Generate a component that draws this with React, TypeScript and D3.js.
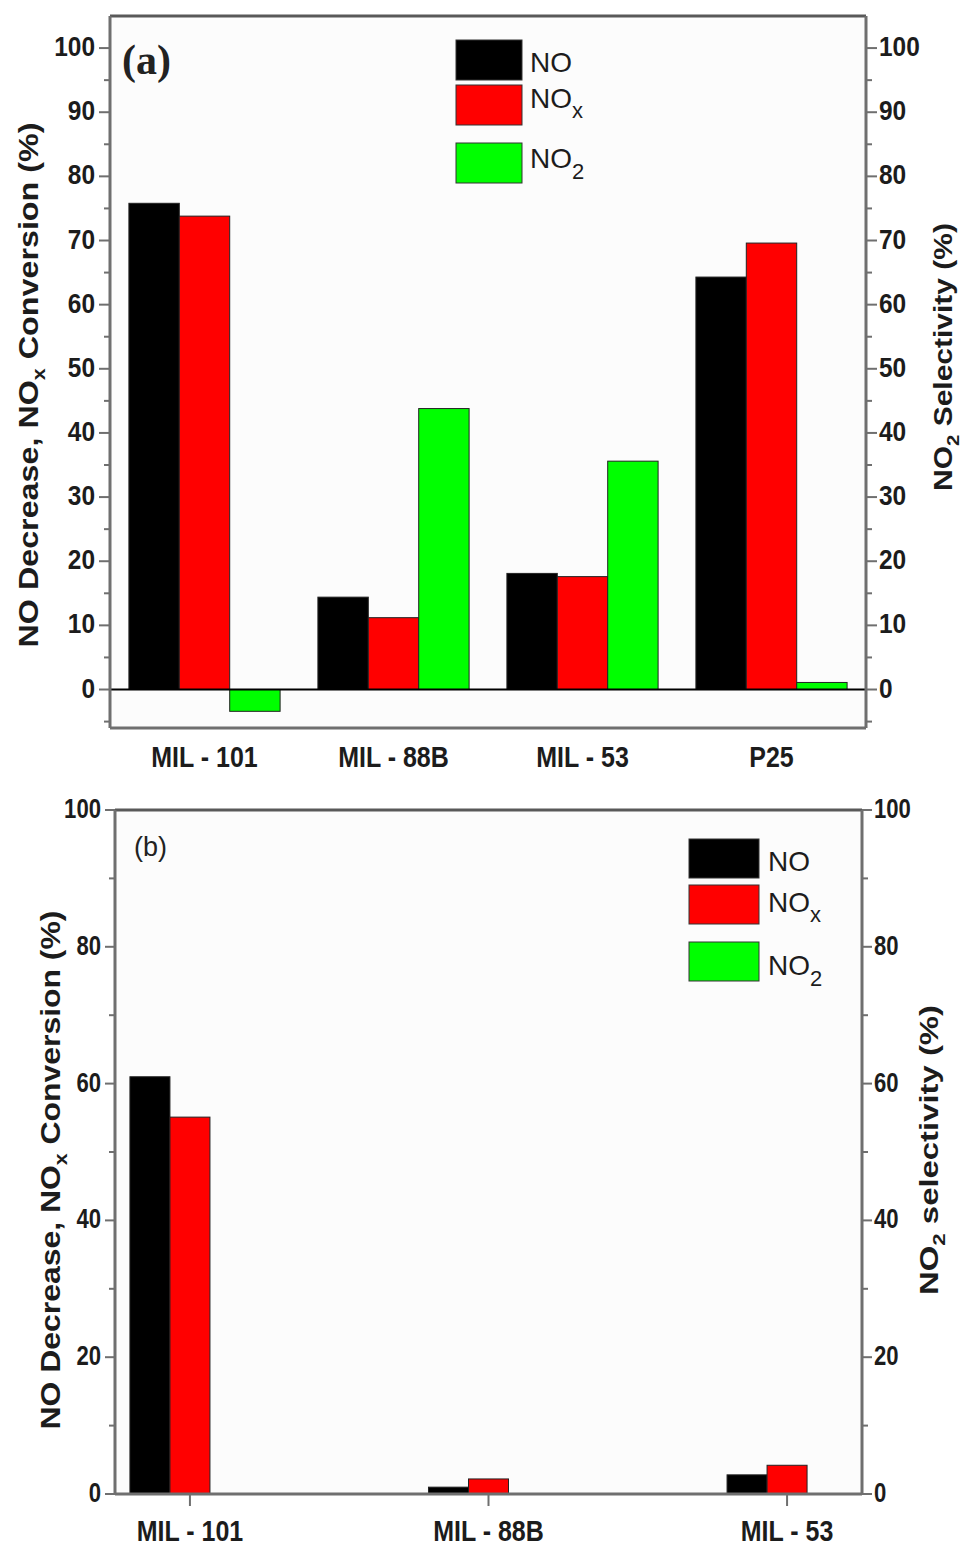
import React from 'react';
import * as d3 from 'd3';

// series shared by both panels
const seriesNames = ['NO', 'NOx', 'NO2'];
const seriesColors = ['#000000', '#ff0000', '#00ff00'];

// panel (a)
const categoriesA = ['MIL - 101', 'MIL - 88B', 'MIL - 53', 'P25'];
const noA = [75.8, 14.4, 18.1, 64.3];
const noxA = [73.8, 11.2, 17.6, 69.6];
const no2A = [-3.4, 43.8, 35.6, 1.1];
const tickLabelsA = [0, 10, 20, 30, 40, 50, 60, 70, 80, 90, 100];
const minorTicksA = [-5, 5, 15, 25, 35, 45, 55, 65, 75, 85, 95];

// panel (b)
const categoriesB = ['MIL - 101', 'MIL - 88B', 'MIL - 53'];
const noB = [61.0, 1.0, 2.8];
const noxB = [55.1, 2.2, 4.2];
const no2B = [0, 0, 0];
const tickLabelsB = [0, 20, 40, 60, 80, 100];
const minorTicksB = [10, 30, 50, 70, 90];

const FONT = 'Arial, "Liberation Sans", Helvetica, sans-serif';
const AXIS = '#6f6f6f';
const INK = '#1c1c1c';

function HText({ x, y, size, anchor = 'middle', weight = 'bold', sy = 1, len, children }: any) {
  return (
    <text
      transform={`translate(${x},${y}) scale(1,${sy})`}
      fontSize={size}
      fontWeight={weight}
      textAnchor={anchor}
      fontFamily={FONT}
      fill={INK}
      textLength={len}
      lengthAdjust={len ? 'spacingAndGlyphs' : undefined}
    >
      {children}
    </text>
  );
}

function VText({ x, y, size, len, children }: any) {
  return (
    <text
      transform={`translate(${x},${y}) rotate(-90)`}
      fontSize={size}
      fontWeight="bold"
      textAnchor="middle"
      fontFamily={FONT}
      fill={INK}
      textLength={len}
      lengthAdjust="spacingAndGlyphs"
    >
      {children}
    </text>
  );
}

function Panel(p: any) {
  const { l, r, t, b } = p.frame;
  const y = d3.scaleLinear().domain(p.yDomain).range([b, t]);
  const x = d3
    .scaleBand()
    .domain(p.categories)
    .range([l, r])
    .paddingInner(p.padIn)
    .paddingOuter(p.padOut);
  const sub = d3.scaleBand().domain(seriesNames).range([0, x.bandwidth()]);
  const values = p.values;

  return (
    <g>
      <rect x={l} y={t} width={r - l} height={b - t} fill="#fcfcfc" />
      {/* bars */}
      {p.categories.map((c: string, i: number) =>
        seriesNames.map((s, k) => {
          const v = values[k][i];
          if (v === 0) return null;
          const y0 = y(0);
          const y1 = y(v);
          return (
            <rect
              key={c + s}
              x={(x(c) as number) + (sub(s) as number)}
              y={Math.min(y0, y1)}
              width={sub.bandwidth()}
              height={Math.abs(y1 - y0)}
              fill={seriesColors[k]}
              stroke="#222"
              strokeWidth={1}
            />
          );
        })
      )}
      {p.zeroLine && <line x1={l} x2={r} y1={y(0)} y2={y(0)} stroke="#000" strokeWidth={2} />}
      {/* frame */}
      <line x1={l} x2={r} y1={t} y2={t} stroke="#595959" strokeWidth={3} />
      <line x1={l} x2={r} y1={b} y2={b} stroke={AXIS} strokeWidth={3} />
      <line x1={l} x2={l} y1={t} y2={b} stroke={AXIS} strokeWidth={3} />
      <line x1={r} x2={r} y1={t} y2={b} stroke={AXIS} strokeWidth={3} />
      {/* y ticks */}
      {p.ticks.map((v: number) => (
        <g key={'t' + v}>
          <line x1={l - p.tickLen} x2={l} y1={y(v)} y2={y(v)} stroke={AXIS} strokeWidth={2} />
          <line x1={r} x2={r + p.tickLen} y1={y(v)} y2={y(v)} stroke={AXIS} strokeWidth={2} />
          <HText x={l - p.tickLen - 4} y={y(v) + 8} size={p.tickSize} anchor="end" sy={1.12} len={p.digitW * String(v).length}>
            {v}
          </HText>
          <HText x={r + p.tickLen + 2} y={y(v) + 8} size={p.tickSize} anchor="start" sy={1.12} len={p.digitW * String(v).length}>
            {v}
          </HText>
        </g>
      ))}
      {p.minor.map((v: number) => (
        <g key={'m' + v}>
          <line x1={l - 6} x2={l} y1={y(v)} y2={y(v)} stroke={AXIS} strokeWidth={2} />
          <line x1={r} x2={r + 6} y1={y(v)} y2={y(v)} stroke={AXIS} strokeWidth={2} />
        </g>
      ))}
      {/* category axis */}
      {p.categories.map((c: string) => {
        const cx = (x(c) as number) + x.bandwidth() / 2;
        return (
          <g key={'c' + c}>
            {p.xTicks && <line x1={cx} x2={cx} y1={b} y2={b + 12} stroke={AXIS} strokeWidth={2} />}
            <HText x={cx} y={p.catY} size={p.catSize} sy={1.15}>
              {c}
            </HText>
          </g>
        );
      })}
      {/* legend */}
      {seriesNames.map((s, k) => (
        <g key={'lg' + s}>
          <rect
            x={p.legend.x}
            y={p.legend.ys[k]}
            width={p.legend.w}
            height={p.legend.h}
            fill={seriesColors[k]}
            stroke="#333"
            strokeWidth={1}
          />
          <text x={p.legend.tx} y={p.legend.bases[k]} fontSize={28} fontFamily={FONT} fill={INK}>
            NO
            {k > 0 && (
              <tspan fontSize={22} dy={k === 1 ? 10 : 11}>
                {k === 1 ? 'x' : '2'}
              </tspan>
            )}
          </text>
        </g>
      ))}
      {p.children}
    </g>
  );
}

export default function App() {
  return (
    <svg width={962} height={1546} style={{ position: 'absolute', left: 0, top: 0, background: '#fff' }}>
      <Panel
        frame={{ l: 110, r: 866, t: 16, b: 728 }}
        yDomain={[-6, 105]}
        categories={categoriesA}
        values={[noA, noxA, no2A]}
        padIn={0.2}
        padOut={0.1}
        ticks={tickLabelsA}
        minor={minorTicksA}
        tickLen={11}
        tickSize={25}
        digitW={13.6}
        zeroLine
        xTicks={false}
        catY={767}
        catSize={25}
        legend={{ x: 456, w: 66, h: 40, ys: [40, 85, 143], tx: 530, bases: [72, 108, 168] }}
      >
        <text x={122} y={74} fontSize={42} fontWeight="bold" fontFamily='"Liberation Serif", "Times New Roman", serif' fill="#222">
          (a)
        </text>
        <VText x={38} y={385} size={27} len={525}>
          NO Decrease, NO
          <tspan fontSize={18} dy={7}>x</tspan>
          <tspan dy={-7}> Conversion (%)</tspan>
        </VText>
        <VText x={952} y={357} size={25} len={268}>
          NO
          <tspan fontSize={17} dy={7}>2</tspan>
          <tspan dy={-7}> Selectivity (%)</tspan>
        </VText>
      </Panel>
      <Panel
        frame={{ l: 115, r: 862, t: 810, b: 1494 }}
        yDomain={[0, 100]}
        categories={categoriesB}
        values={[noB, noxB, no2B]}
        padIn={0.598}
        padOut={0.05}
        ticks={tickLabelsB}
        minor={minorTicksB}
        tickLen={10}
        tickSize={24}
        digitW={12.3}
        zeroLine={false}
        xTicks
        catY={1541}
        catSize={25}
        legend={{ x: 689, w: 70, h: 39, ys: [839, 885, 942], tx: 768, bases: [871, 912, 975] }}
      >
        <text x={134} y={856} fontSize={27} fontFamily={FONT} fill="#222">
          (b)
        </text>
        <VText x={60} y={1170} size={27} len={519}>
          NO Decrease, NO
          <tspan fontSize={18} dy={7}>x</tspan>
          <tspan dy={-7}> Conversion (%)</tspan>
        </VText>
        <VText x={938} y={1150} size={25} len={290}>
          NO
          <tspan fontSize={17} dy={7}>2</tspan>
          <tspan dy={-7}> selectivity (%)</tspan>
        </VText>
      </Panel>
    </svg>
  );
}
